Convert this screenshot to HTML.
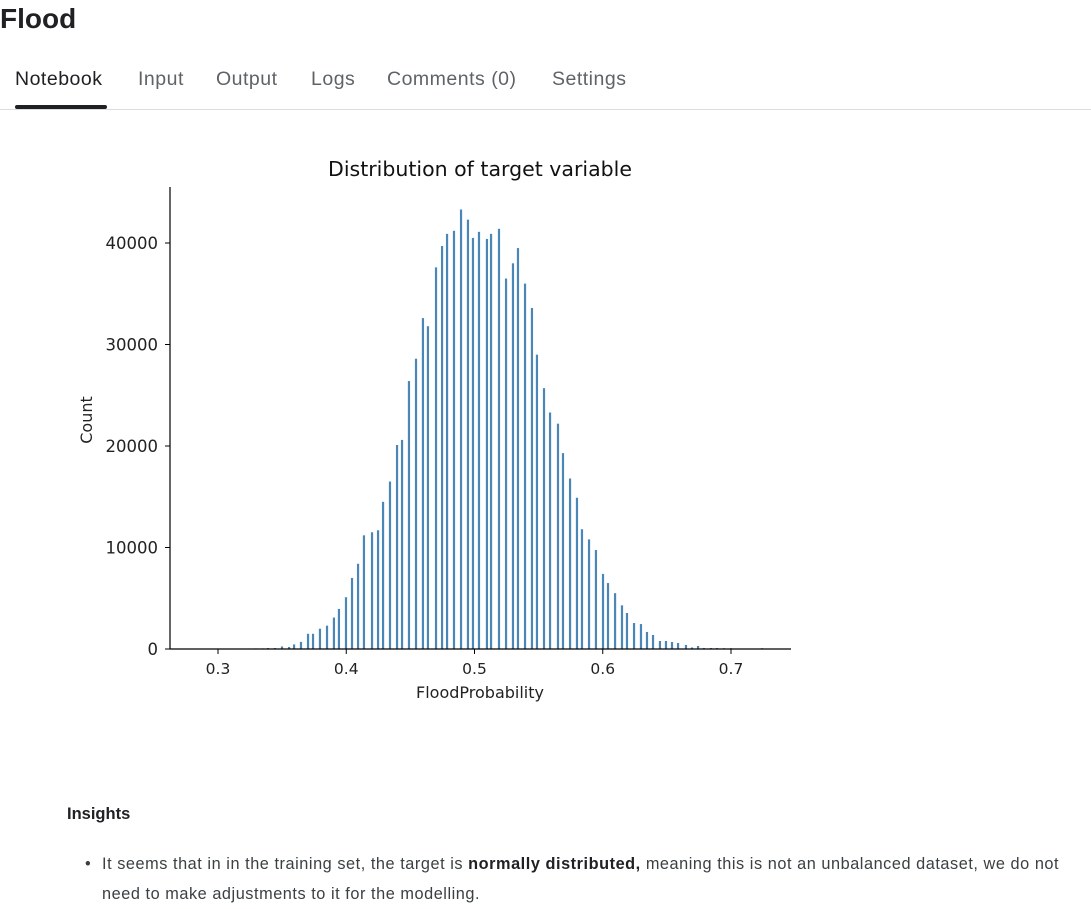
<!DOCTYPE html>
<html><head><meta charset="utf-8">
<style>
body{margin:0;width:1091px;height:906px;background:#fff;font-family:"Liberation Sans",sans-serif;position:relative;overflow:hidden;color:#202124}
.abs{position:absolute;white-space:nowrap}
.tab{position:absolute;top:68px;font-size:19.5px;letter-spacing:0.5px;color:#5f6368}
</style></head><body>
<div class="abs" style="left:0;top:3px;font-size:28px;font-weight:bold;">Flood</div>
<div class="tab" style="left:15px;color:#202124">Notebook</div>
<div class="tab" style="left:138px">Input</div>
<div class="tab" style="left:216px">Output</div>
<div class="tab" style="left:311px">Logs</div>
<div class="tab" style="left:387px">Comments (0)</div>
<div class="tab" style="left:552px">Settings</div>
<div class="abs" style="left:15px;top:105px;width:92px;height:4px;background:#202124;border-radius:2px"></div>
<div class="abs" style="left:0;top:109px;width:1091px;height:1px;background:#dadce0"></div>

<svg id="chart" width="1091" height="720" style="position:absolute;left:0;top:0" font-family="DejaVu Sans, sans-serif"></svg>

<div class="abs" style="left:67px;top:805px;font-size:16.5px;font-weight:bold;color:#202124">Insights</div>
<div class="abs" style="left:102px;top:849px;font-size:16.3px;letter-spacing:0.55px;line-height:30px;color:#3c4043;white-space:normal;width:990px">
<span style="position:absolute;left:-17px">•</span>It seems that in in the training set, the target is <b style="color:#202124">normally distributed,</b> meaning this is not an unbalanced dataset, we do not need to make adjustments to it for the modelling.</div>

<script>
const binCenters=[.3148,.3203,.3242,.3296,.3351,.3390,.3444,.3499,.3554,.3593,.3647,.3702,.3741,.3795,.3850,.3904,.3943,.3998,.4045,.4092,.4138,.4201,.4248,.4287,.4341,.4396,.4435,.4489,.4544,.4598,.4637,.4700,.4747,.4786,.4840,.4895,.4949,.4988,.5035,.5097,.5129,.5191,.5246,.5300,.5339,.5394,.5448,.5487,.5542,.5589,.5651,.5690,.5745,.5799,.5838,.5893,.5947,.6002,.6041,.6096,.6150,.6189,.6244,.6298,.6345,.6392,.6446,.6493,.6540,.6587,.6649,.6696,.6743,.6789,.6844,.6891,.6945,.7,.7047,.7242];
const counts=[50,50,50,60,60,100,100,250,200,450,700,1500,1500,2000,2300,3100,3950,5100,7000,8400,11200,11500,11700,14500,16500,20100,20600,26400,28600,32600,31800,37600,39700,40900,41200,43300,42300,40500,41100,40400,40900,41400,36500,38000,39500,36000,33600,29000,25700,23300,22200,19300,16800,14900,11800,10800,9750,7400,6500,5500,4300,3550,2560,2460,1680,1380,790,790,690,590,400,150,300,100,100,100,80,80,50,80];
const xTicks=[0.3,0.4,0.5,0.6,0.7];
const yTicks=[0,10000,20000,30000,40000];

const svg=document.getElementById('chart');
const NS='http://www.w3.org/2000/svg';
const X0=170,X1=791,Y0=649,YTOP=187;
const xs=v=>218+(v-0.3)*1282.5;
const ys=v=>Y0-v*0.01015;
function mk(tag,attrs,txt){const e=document.createElementNS(NS,tag);for(const k in attrs)e.setAttribute(k,attrs[k]);if(txt!==undefined)e.textContent=txt;svg.appendChild(e);return e;}

binCenters.forEach((c,i)=>{
  const b=mk('rect',{x:xs(c)-1.1,y:ys(counts[i]),width:2.2,height:Y0-ys(counts[i]),fill:'#4a86b6'});
  
  
});
const ya=mk('line',{x1:X0,y1:YTOP,x2:X0,y2:Y0+0.5,stroke:'#000','stroke-width':1.2});


const xa=mk('line',{x1:X0,y1:Y0,x2:X1,y2:Y0,stroke:'#000','stroke-width':1.2});


xTicks.forEach(t=>{
  mk('line',{x1:xs(t),y1:Y0,x2:xs(t),y2:Y0+5,stroke:'#000','stroke-width':1});
  const l=mk('text',{x:xs(t),y:Y0+25,'text-anchor':'middle','font-size':15.5,fill:'#222'},String(t));
  
  
});
yTicks.forEach(t=>{
  mk('line',{x1:X0-5,y1:ys(t),x2:X0,y2:ys(t),stroke:'#000','stroke-width':1});
  const l=mk('text',{x:X0-12,y:ys(t)+6,'text-anchor':'end','font-size':16.5,fill:'#222'},String(t));
  
  
});
const tt=mk('text',{x:480,y:176,'text-anchor':'middle','font-size':20.5,fill:'#111'},'Distribution of target variable');


const xt=mk('text',{x:480,y:698,'text-anchor':'middle','font-size':16,fill:'#222'},'FloodProbability');


const yt=mk('text',{x:0,y:0,'text-anchor':'middle','font-size':16,fill:'#222',transform:'translate(92,420) rotate(-90)'},'Count');


</script>
</body></html>
